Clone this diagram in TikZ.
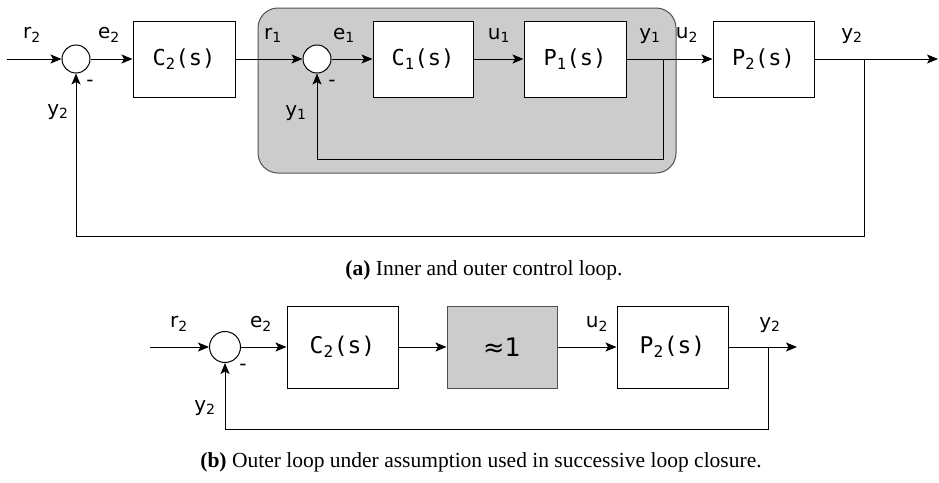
\documentclass[tikz,border=0pt]{standalone}
\usepackage{fontspec}
\setmainfont{Liberation Serif}
\newfontfamily\dvs{DejaVu Sans}
\newfontfamily\dvm{DejaVu Sans Mono}
\usetikzlibrary{arrows.meta}
\definecolor{shade}{RGB}{204,204,204}
\definecolor{edgegray}{RGB}{80,80,80}
\tikzset{
  block/.style={draw=black, line width=1pt, fill=white, inner sep=0pt,
    font=\dvm\fontsize{22}{26}\selectfont},
  bigblock/.style={block, font=\dvm\fontsize{23}{27}\selectfont},
  grayblock/.style={block, fill=shade, draw=edgegray, font=\dvs\fontsize{25.5}{30}\selectfont},
  sumc/.style={draw=black, line width=1pt, fill=white, circle, inner sep=0pt},
  arr/.style={line width=1pt, -{Stealth[length=11pt,width=9pt,inset=2.5pt]}},
  lbl/.style={font=\dvs\fontsize{20}{24}\selectfont, inner sep=0pt},
  captext/.style={font=\fontsize{21.5}{25}\selectfont, inner sep=0pt},
  innerbox/.style={draw=edgegray, fill=shade, line width=1pt, rounded corners=20pt, inner sep=0pt}
}
\begin{document}
\begin{tikzpicture}[x=1pt,y=-1pt]
\useasboundingbox (0,0) rectangle (939,482);
% ---------- (a) ----------
\node[innerbox, minimum width=418pt, minimum height=165pt] (inner) at (467,90.5) {};
\node[sumc, minimum size=28pt] (s1) at (76,59) {};
\node[block, minimum width=102pt, minimum height=76pt] (C2) at (184,59) {C\textsubscript{2}(s)};
\node[sumc, minimum size=28pt] (s2) at (317,59) {};
\node[block, minimum width=100pt, minimum height=76pt] (C1) at (423,59) {C\textsubscript{1}(s)};
\node[block, minimum width=102pt, minimum height=76pt] (P1) at (575,59) {P\textsubscript{1}(s)};
\node[block, minimum width=101pt, minimum height=76pt] (P2) at (763.5,59) {P\textsubscript{2}(s)};
\coordinate (in1) at (7,59);
\coordinate (out1) at (938,59);
\coordinate (t1) at (663,59);
\coordinate (c1) at (663,159);
\coordinate (t2) at (864,59);
\coordinate (c2) at (864,236);
\draw[arr] (in1) -- (s1);
\draw[arr] (s1) -- (C2);
\draw[arr] (C2) -- (s2);
\draw[arr] (s2) -- (C1);
\draw[arr] (C1) -- (P1);
\draw[arr] (P1) -- (P2);
\draw[arr] (P2) -- (out1);
\draw[arr] (t1) -- (c1) -| (s2);
\draw[arr] (t2) -- (c2) -| (s1);
\node[lbl] (lr2) at (32,35) {r\textsubscript{2}};
\node[lbl] (le2) at (109,35) {e\textsubscript{2}};
\node[lbl] (lm1) at (90,83) {-};
\node[lbl] (ly2) at (58,112) {y\textsubscript{2}};
\node[lbl] (lr1) at (273,35) {r\textsubscript{1}};
\node[lbl] (le1) at (344,35) {e\textsubscript{1}};
\node[lbl] (lm2) at (332,83) {-};
\node[lbl] (ly1b) at (296,113) {y\textsubscript{1}};
\node[lbl] (lu1) at (499,35) {u\textsubscript{1}};
\node[lbl] (ly1) at (650,36) {y\textsubscript{1}};
\node[lbl] (lu2) at (687,35) {u\textsubscript{2}};
\node[lbl] (ly2o) at (852,36) {y\textsubscript{2}};
\node[captext] (capa) at (484,270) {\textbf{(a)} Inner and outer control loop.};
% ---------- (b) ----------
\node[sumc, minimum size=31pt] (s3) at (225,347) {};
\node[bigblock, minimum width=111pt, minimum height=82pt] (C2b) at (342.5,347) {C\textsubscript{2}(s)};
\node[grayblock, minimum width=110pt, minimum height=82pt] (one) at (502,347) {≈1};
\node[bigblock, minimum width=111pt, minimum height=82pt] (P2b) at (672.5,347) {P\textsubscript{2}(s)};
\coordinate (in3) at (150,347);
\coordinate (out3) at (797,347);
\coordinate (t3) at (768,347);
\coordinate (c3) at (768,429);
\draw[arr] (in3) -- (s3);
\draw[arr] (s3) -- (C2b);
\draw[arr] (C2b) -- (one);
\draw[arr] (one) -- (P2b);
\draw[arr] (P2b) -- (out3);
\draw[arr] (t3) -- (c3) -| (s3);
\node[lbl] (br2) at (179,324) {r\textsubscript{2}};
\node[lbl] (be2) at (261,324) {e\textsubscript{2}};
\node[lbl] (bm) at (243,367) {-};
\node[lbl] (by2) at (205,408) {y\textsubscript{2}};
\node[lbl] (bu2) at (597,324) {u\textsubscript{2}};
\node[lbl] (by2o) at (770,325) {y\textsubscript{2}};
\node[captext] (capb) at (481,462) {\textbf{(b)} Outer loop under assumption used in successive loop closure.};
\end{tikzpicture}
\end{document}
